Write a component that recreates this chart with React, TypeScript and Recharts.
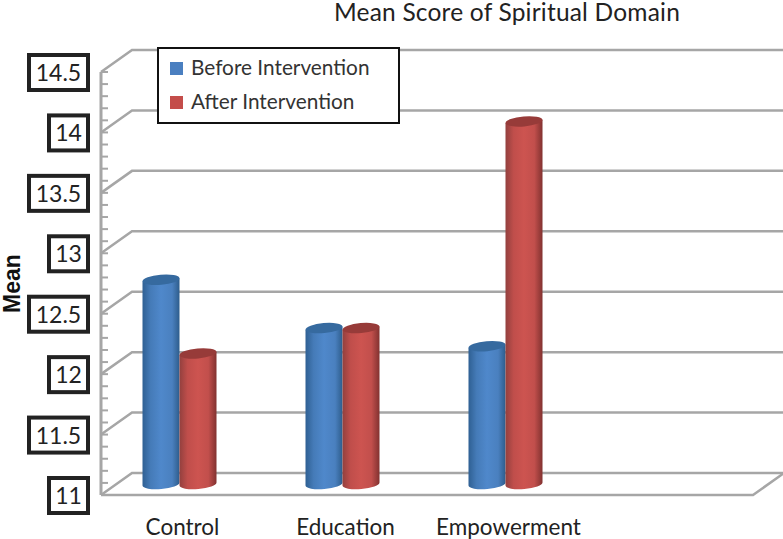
import React from "react";
import { Bar, BarChart, CartesianGrid, Legend, XAxis, YAxis } from "recharts";

const groups = ["Control", "Education", "Empowerment", ""];
const beforeIntervention = [12.69, 12.29, 12.14, null];
const afterIntervention = [12.08, 12.29, 14.0, null];
const majorTicks = [11, 11.5, 12, 12.5, 13, 13.5, 14, 14.5];
const allTicks = [
  11, 11.1, 11.2, 11.3, 11.4, 11.5, 11.6, 11.7, 11.8, 11.9, 12, 12.1, 12.2, 12.3, 12.4, 12.5, 12.6, 12.7,
  12.8, 12.9, 13, 13.1, 13.2, 13.3, 13.4, 13.5, 13.6, 13.7, 13.8, 13.9, 14, 14.1, 14.2, 14.3, 14.4, 14.5,
];

const chartData = groups.map((group, i) => ({
  group,
  before: beforeIntervention[i],
  after: afterIntervention[i],
}));

const FONT = "Lato, sans-serif";
const GRID = "#a6a6a6";
const legendColors = ["#4a7fc0", "#c44d4a"];
// 3d look: how far the back wall sits from the front of the floor
const DEPTH_X = 31;
const DEPTH_Y = 22;

const WallLine = (props: any) => {
  const { x1, x2, y1 } = props;
  const isFloor = Math.abs(y1 - 495) < 1;
  return (
    <g>
      <polyline
        points={`${x1},${y1} ${x1 + DEPTH_X},${y1 - DEPTH_Y} ${x2 + DEPTH_X},${y1 - DEPTH_Y}`}
        fill="none"
        stroke={GRID}
        strokeWidth={2.5}
      />
      {isFloor && (
        <polyline
          points={`${x1},${y1} ${x2},${y1} ${x2 + DEPTH_X},${y1 - DEPTH_Y}`}
          fill="none"
          stroke={GRID}
          strokeWidth={2.5}
        />
      )}
    </g>
  );
};

const ValueTick = (props: any) => {
  const { x, y, payload } = props;
  const major = majorTicks.includes(payload.value);
  const label = String(payload.value);
  const boxWidth = label.length > 2 ? 59 : 39;
  return (
    <g>
      <line x1={x} x2={x + 7} y1={y} y2={y} stroke={GRID} strokeWidth={2} />
      {major && (
        <g>
          <rect x={x - 13 - boxWidth} y={y - 17} width={boxWidth} height={35} fill="#fff" stroke="#222" strokeWidth={4} />
          <text x={x - 13 - boxWidth / 2} y={y + 9} textAnchor="middle" fontFamily={FONT} fontSize={23} fill="#222">
            {label}
          </text>
        </g>
      )}
    </g>
  );
};

const Cylinder = (props: any) => {
  const { x, y, width, height, fill, capFill } = props;
  if (height == null || height <= 0) return null;
  const left = x - 3.5;
  const right = left + width;
  const top = y - 11;
  const bottom = y + height - 11;
  const rx = width / 2;
  const ry = 5;
  return (
    <g>
      <path
        d={`M${left},${top + 1.6} L${right},${top - 1.6} L${right},${bottom - 1.6} A${rx},${ry} -5 0 1 ${left},${bottom + 1.6} Z`}
        fill={fill}
      />
      <ellipse cx={left + rx} cy={top} rx={rx} ry={ry} fill={capFill} transform={`rotate(-5 ${left + rx} ${top})`} />
    </g>
  );
};

const LegendBox = ({ payload }: any) => (
  <div
    style={{
      boxSizing: "border-box",
      width: 243,
      height: 77,
      border: "2px solid #111",
      background: "#fff",
      position: "relative",
      fontFamily: FONT,
      fontSize: 20.8,
      color: "#333",
    }}
  >
    {(payload || []).map((entry: any, i: number) => (
      <div key={entry.value} style={{ position: "absolute", left: 11, top: 5 + i * 34, lineHeight: "26px", whiteSpace: "nowrap" }}>
        <span
          style={{
            display: "inline-block",
            width: 13,
            height: 13,
            marginRight: 8,
            background: legendColors[i],
          }}
        />
        {entry.value}
      </div>
    ))}
  </div>
);

export default function App() {
  return (
    <div style={{ position: "absolute", left: 0, top: 0, width: 783, height: 539, background: "#fff" }}>
      <div
        style={{
          position: "absolute",
          left: 334,
          top: 0,
          fontFamily: FONT,
          fontSize: 24.5,
          letterSpacing: 0.2,
          lineHeight: "24px",
          color: "#222",
          whiteSpace: "nowrap",
        }}
      >
        Mean Score of Spiritual Domain
      </div>
      <BarChart
        width={783}
        height={539}
        data={chartData}
        margin={{ top: 72, right: 30, left: 0, bottom: 0 }}
        barSize={37}
        barGap={0}
      >
        <defs>
          <linearGradient id="blueCyl" x1="0" x2="1" y1="0" y2="0">
            <stop offset="0" stopColor="#2f6093" />
            <stop offset="0.22" stopColor="#457bb8" />
            <stop offset="0.5" stopColor="#4f88cb" />
            <stop offset="0.8" stopColor="#4a80bf" />
            <stop offset="1" stopColor="#2e5d8c" />
          </linearGradient>
          <linearGradient id="redCyl" x1="0" x2="1" y1="0" y2="0">
            <stop offset="0" stopColor="#93403e" />
            <stop offset="0.22" stopColor="#c04e4b" />
            <stop offset="0.5" stopColor="#cd5450" />
            <stop offset="0.78" stopColor="#c24f4c" />
            <stop offset="1" stopColor="#823230" />
          </linearGradient>
        </defs>
        <CartesianGrid vertical={false} horizontal={(p: any) => <WallLine {...p} />} horizontalValues={majorTicks} />
        <XAxis
          dataKey="group"
          axisLine={false}
          tickLine={false}
          height={44}
          interval={0}
          tick={{ fontFamily: FONT, fontSize: 22.5, fill: "#222", dy: 16 }}
        />
        <YAxis
          width={101}
          domain={[11, 14.5]}
          ticks={allTicks}
          interval={0}
          tickLine={false}
          tickSize={0}
          tickMargin={0}
          axisLine={{ stroke: GRID, strokeWidth: 3 }}
          tick={<ValueTick />}
          label={{
            value: "Mean",
            angle: -90,
            position: "insideLeft",
            dx: 6.5,
            dy: 0,
            style: { fontFamily: "Liberation Sans, sans-serif", fontWeight: 700, fontSize: 23, fill: "#111", textAnchor: "middle" },
          }}
        />
        <Legend
          layout="vertical"
          align="center"
          verticalAlign="middle"
          itemSorter={null}
          content={<LegendBox />}
          wrapperStyle={{ left: 157, top: 47, width: 243, height: 77 }}
        />
        <Bar
          dataKey="before"
          name="Before Intervention"
          fill="url(#blueCyl)"
          shape={(p: any) => <Cylinder {...p} capFill="#366a9f" />}
          isAnimationActive={false}
        />
        <Bar
          dataKey="after"
          name="After Intervention"
          fill="url(#redCyl)"
          shape={(p: any) => <Cylinder {...p} capFill="#973b39" />}
          isAnimationActive={false}
        />
      </BarChart>
    </div>
  );
}
